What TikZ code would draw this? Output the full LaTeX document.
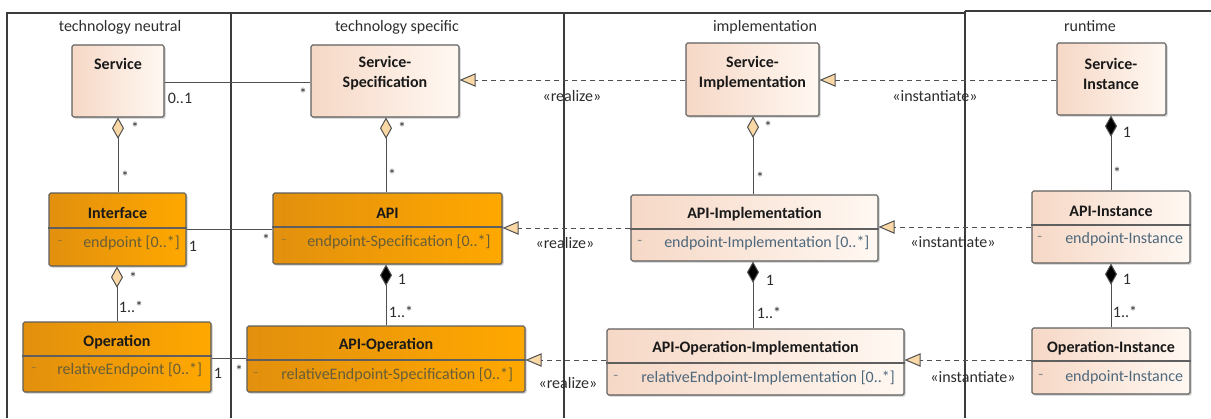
\documentclass[tikz,border=0pt]{standalone}
\usepackage{fontspec}
\setmainfont{Carlito}
\usetikzlibrary{arrows.meta,fit,shadows}

\definecolor{lanecol}{RGB}{60,60,60}
\definecolor{boxline}{RGB}{95,95,95}
\definecolor{conn}{RGB}{80,80,80}
\definecolor{orL}{RGB}{226,144,14}
\definecolor{orR}{RGB}{255,168,0}
\definecolor{ltL}{RGB}{246,216,198}
\definecolor{ltR}{RGB}{255,248,242}
\definecolor{tipfill}{RGB}{250,216,165}
\definecolor{attrO}{RGB}{103,94,55}
\definecolor{dashO}{RGB}{160,120,50}
\definecolor{attrL}{RGB}{78,104,124}
\definecolor{dashL}{RGB}{140,140,140}
\definecolor{txt}{RGB}{45,45,45}

\begin{document}
\begin{tikzpicture}[x=0.75pt,y=-0.75pt,
  font=\fontsize{12}{15}\selectfont,
  lane/.style={draw=lanecol, line width=1.1pt},
  lanetitle/.style={text=txt, inner sep=0pt},
  cbox/.style={draw=boxline, line width=0.8pt, rounded corners=1.2pt, inner sep=0pt,
    drop shadow={shadow xshift=1.2pt, shadow yshift=-1.2pt, opacity=0.35, fill=black!60}},
  obox/.style={cbox, left color=orL, right color=orR},
  lbox/.style={cbox, left color=ltL, right color=ltR},
  ttl/.style={font=\fontsize{12}{15}\selectfont\bfseries, text=black!90, align=center, inner sep=0pt},
  divider/.style={draw=boxline, line width=0.8pt},
  oattr/.style={text=attrO, anchor=west, inner sep=0pt},
  odash/.style={text=dashO, anchor=west, inner sep=0pt},
  lattr/.style={text=attrL, anchor=west, inner sep=0pt},
  ldash/.style={text=dashL, anchor=west, inner sep=0pt},
  mult/.style={text=txt, inner sep=0pt},
  assoc/.style={draw=conn, line width=0.75pt},
  aggr/.style={assoc, {Diamond[length=16pt, width=9pt, fill=tipfill, line width=0.75pt]}-},
  compo/.style={assoc, {Diamond[length=16pt, width=9pt, fill=black, line width=0.75pt]}-},
  realiz/.style={draw=conn, line width=0.75pt, dash pattern=on 3.75pt off 3pt,
    -{Triangle[length=12pt, width=10pt, fill=tipfill, line width=0.75pt]}},
  stereo/.style={text=txt, inner sep=0pt}
]
\useasboundingbox (0,0) rectangle (1211,418);

% ---- swimlanes ----
\draw[lane] (7,418) -- (7,13) -- (965,13);
\draw[lane] (231,13) -- (231,418);
\draw[lane] (564,13) -- (564,418);
\draw[lane] (965,11) -- (965,418);
\draw[lane] (965,11) -- (1211,11);

\node[lanetitle] (lt1) at (120,27) {technology neutral};
\node[lanetitle] (lt2) at (397,27) {technology specific};
\node[lanetitle] (lt3) at (765,27) {implementation};
\node[lanetitle] (lt4) at (1090,26) {runtime};

% ---- service level ----
\node[lbox, fit={(72,45) (164,117)}] (svc) {};
\node[ttl] (svc-t) at (118,64) {Service};

\node[lbox, fit={(311,45) (459,117)}] (spec) {};
\node[ttl] (spec-t) at (385,73) {Service-\\Specification};

\node[lbox, fit={(686,43) (819,116)}] (simpl) {};
\node[ttl] (simpl-t) at (752.5,73) {Service-\\Implementation};

\node[lbox, fit={(1057,43) (1166,115)}] (sinst) {};
\node[ttl] (sinst-t) at (1111,74) {Service-\\Instance};

% ---- API level ----
\node[obox, fit={(49,193) (186,266)}] (iface) {};
\node[ttl] (iface-t) at (117.5,213) {Interface};
\draw[divider] (iface.west |- 0,228) -- (iface.east |- 0,228);
\node[odash] (iface-d) at (57,243) {-};
\node[oattr] (iface-a) at (83,243) {endpoint [0..*]};

\node[obox, fit={(273,193) (502,264)}] (api) {};
\node[ttl] (api-t) at (387.5,213) {API};
\draw[divider] (api.west |- 0,227) -- (api.east |- 0,227);
\node[odash] (api-d) at (281,242) {-};
\node[oattr] (api-a) at (307,242) {endpoint-Specification [0..*]};

\node[lbox, fit={(631,195) (878,261)}] (apiimpl) {};
\node[ttl] (apiimpl-t) at (754.5,214) {API-Implementation};
\draw[divider] (apiimpl.west |- 0,229) -- (apiimpl.east |- 0,229);
\node[ldash] (apiimpl-d) at (637,243) {-};
\node[lattr] (apiimpl-a) at (664,243) {endpoint-Implementation [0..*]};

\node[lbox, fit={(1032,191) (1190,263)}] (apiinst) {};
\node[ttl] (apiinst-t) at (1111,211) {API-Instance};
\draw[divider] (apiinst.west |- 0,225) -- (apiinst.east |- 0,225);
\node[ldash] (apiinst-d) at (1037,239) {-};
\node[lattr] (apiinst-a) at (1065,239) {endpoint-Instance};

% ---- operation level ----
\node[obox, fit={(23,322) (211,392)}] (op) {};
\node[ttl] (op-t) at (117,342) {Operation};
\draw[divider] (op.west |- 0,356) -- (op.east |- 0,356);
\node[odash] (op-d) at (31,370) {-};
\node[oattr] (op-a) at (57,370) {relativeEndpoint [0..*]};

\node[obox, fit={(247,326) (525,392)}] (apiop) {};
\node[ttl] (apiop-t) at (386,345) {API-Operation};
\draw[divider] (apiop.west |- 0,360) -- (apiop.east |- 0,360);
\node[odash] (apiop-d) at (253,375) {-};
\node[oattr] (apiop-a) at (281,375) {relativeEndpoint-Specification [0..*]};

\node[lbox, fit={(607,329) (904,395)}] (opimpl) {};
\node[ttl] (opimpl-t) at (755.5,348) {API-Operation-Implementation};
\draw[divider] (opimpl.west |- 0,363) -- (opimpl.east |- 0,363);
\node[ldash] (opimpl-d) at (613,378) {-};
\node[lattr] (opimpl-a) at (641,378) {relativeEndpoint-Implementation [0..*]};

\node[lbox, fit={(1032,328) (1190,394)}] (opinst) {};
\node[ttl] (opinst-t) at (1111,348) {Operation-Instance};
\draw[divider] (opinst.west |- 0,361) -- (opinst.east |- 0,361);
\node[ldash] (opinst-d) at (1038,377) {-};
\node[lattr] (opinst-a) at (1065,377) {endpoint-Instance};

% ---- associations ----
\draw[assoc] (svc.east |- 0,82) -- (spec.west |- 0,82);
\node[mult] (m1) at (180,98) {0..1};
\node[mult] (m2) at (303,94) {*};

\draw[assoc] (iface.east |- 0,229) -- (api.west |- 0,229);
\node[mult] (m3) at (193,246) {1};
\node[mult] (m4) at (266,240) {*};

\draw[assoc] (op.east |- 0,358) -- (apiop.west |- 0,358);
\node[mult] (m5) at (218,373) {1};
\node[mult] (m6) at (239,371) {*};

% ---- aggregations and compositions ----
\draw[aggr] (svc.south -| 118,0) -- (iface.north -| 118,0);
\node[mult] (m7) at (135,128) {*};
\node[mult] (m8) at (125,177) {*};

\draw[aggr] (spec.south -| 386,0) -- (api.north -| 386,0);
\node[mult] (m9) at (402,128) {*};
\node[mult] (m10) at (392,175) {*};

\draw[aggr] (simpl.south -| 753,0) -- (apiimpl.north -| 753,0);
\node[mult] (m11) at (768,127) {*};
\node[mult] (m12) at (760,178) {*};

\draw[compo] (sinst.south -| 1111,0) -- (apiinst.north -| 1111,0);
\node[mult] (m13) at (1127,132) {1};
\node[mult] (m14) at (1117,173) {*};

\draw[aggr] (iface.south -| 117,0) -- (op.north -| 117,0);
\node[mult] (m15) at (133,278) {*};
\node[mult] (m16) at (131,307) {1..*};

\draw[compo] (api.south -| 386,0) -- (apiop.north -| 386,0);
\node[mult] (m17) at (402,279) {1};
\node[mult] (m18) at (401,312) {1..*};

\draw[compo] (apiimpl.south -| 753,0) -- (opimpl.north -| 753,0);
\node[mult] (m19) at (770,280) {1};
\node[mult] (m20) at (769,313) {1..*};

\draw[compo] (apiinst.south -| 1111,0) -- (opinst.north -| 1111,0);
\node[mult] (m21) at (1127,279) {1};
\node[mult] (m22) at (1125,312) {1..*};

% ---- realizations and instantiations ----
\draw[realiz] (simpl.west |- 0,80) -- (spec.east |- 0,80);
\node[stereo] (s1) at (572,96) {«realize»};
\draw[realiz] (sinst.west |- 0,80) -- (simpl.east |- 0,80);
\node[stereo] (s2) at (935,96) {«instantiate»};

\draw[realiz] (apiimpl.west |- 0,228) -- (api.east |- 0,228);
\node[stereo] (s3) at (565,243) {«realize»};
\draw[realiz] (apiinst.west |- 0,227) -- (apiimpl.east |- 0,227);
\node[stereo] (s4) at (953,242) {«instantiate»};

\draw[realiz] (opimpl.west |- 0,360) -- (apiop.east |- 0,360);
\node[stereo] (s5) at (568,383) {«realize»};
\draw[realiz] (opinst.west |- 0,360) -- (opimpl.east |- 0,360);
\node[stereo] (s6) at (973,377) {«instantiate»};
\end{tikzpicture}
\end{document}
